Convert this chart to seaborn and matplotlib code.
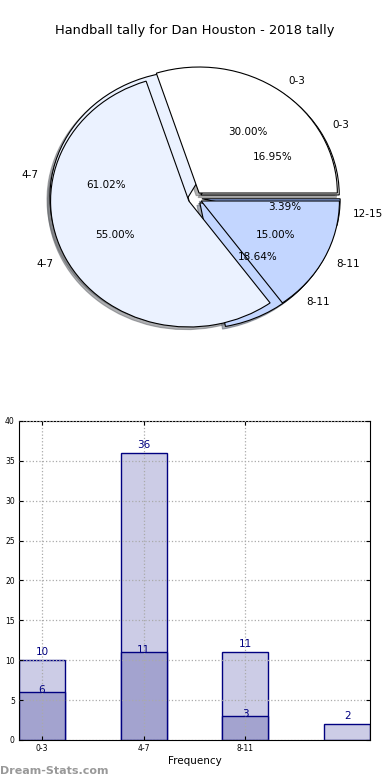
import matplotlib
matplotlib.use("Agg")
import matplotlib.pyplot as plt
import seaborn as sns

title = "Handball tally for Dan Houston - 2018 tally"
categories = ["0-3", "4-7", "8-11", "12-15"]
all_counts = [10, 36, 11, 2]
won_counts = [6, 11, 3]
pie_colors = ["white", "#EBF2FF", "#C3D6FF", "#9DBBFF"]
light_bar = "#CCCCE6"
dark_bar = "#A3A3CF"

plt.rcParams['font.family'] = ['DejaVu Sans']

fig = plt.figure(figsize=(3.9, 7.8), dpi=100)

# pie part: two pies laid on each other
shadow_opts = {'ox': -0.015, 'oy': -0.015, 'shade': 0.6}
ax1 = fig.add_axes([0.032, 0.536, 0.936, 0.42])
ax1.pie(all_counts, labels=categories, colors=pie_colors, autopct='%1.2f%%',
        explode=[0.05] * len(all_counts), shadow=shadow_opts,
        wedgeprops={'edgecolor': 'black', 'linewidth': 0.8},
        textprops={'fontsize': 7.5})
ax1.pie(won_counts, labels=categories[:3], colors=pie_colors[:3], autopct='%1.2f%%',
        explode=[0.05] * len(won_counts), shadow=shadow_opts,
        wedgeprops={'edgecolor': 'black', 'linewidth': 0.8},
        textprops={'fontsize': 7.5})
ax1.set_aspect('auto')
ax1.set_xlim(-1.32, 1.32)
ax1.set_ylim(-1.30, 1.30)
fig.text(0.5, 0.9615, title, ha='center', va='center', fontsize=9.4)

# bar part
ax2 = fig.add_axes([0.0487, 0.0513, 0.9, 0.409])
sns.barplot(x=categories, y=all_counts, order=categories, width=0.45,
            color=light_bar, saturation=1, edgecolor='navy', linewidth=1, ax=ax2)
sns.barplot(x=categories[:3], y=won_counts, order=categories, width=0.45,
            color=dark_bar, saturation=1, edgecolor='navy', linewidth=1, ax=ax2)

for i, v in enumerate(all_counts):
    ax2.text(i, v + 1.0, str(v), ha='center', va='center', color='navy', fontsize=7.5)
for i, v in enumerate(won_counts):
    ax2.text(i, v + 0.25, str(v), ha='center', va='center', color='navy', fontsize=7.5)

ax2.set_xlim(-0.225, 3.225)
ax2.set_ylim(0, 40)
ax2.set_yticks(range(0, 41, 5))
ax2.set_xticks([0, 1, 2])
ax2.set_xticklabels(categories[:3])
ax2.set_xlabel("Frequency", fontsize=7.5, labelpad=2)
ax2.set_ylabel("")
ax2.grid(True, linestyle=':', color='#aaaaaa', linewidth=0.9)
ax2.set_axisbelow(False)
ax2.tick_params(direction='in', top=True, right=True, labelsize=5.5, length=3, pad=3)
for s in ax2.spines.values():
    s.set_linewidth(0.8)

fig.text(0.0, 0.012, "Dream-Stats.com", color='#999999', fontsize=8,
         fontweight='bold', ha='left', va='center')

fig.savefig("out.png", dpi=100)
